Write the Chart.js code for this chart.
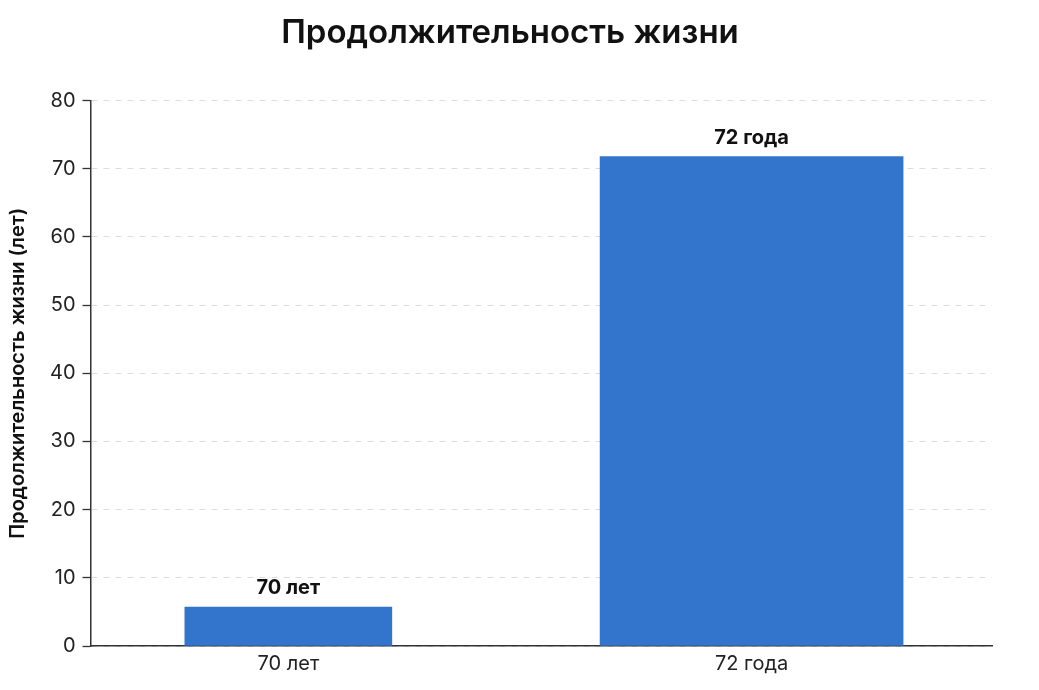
<!DOCTYPE html>
<html>
<head>
<meta charset="utf-8">
<script src="https://cdn.jsdelivr.net/npm/chart.js@4.4.1/dist/chart.umd.min.js"></script>
<style>
  html, body { margin: 0; padding: 0; background: #ffffff; }
  #wrap { width: 1039px; height: 690px; }
</style>
</head>
<body>
<div id="wrap"><canvas id="c" width="1039" height="690"></canvas></div>
<script>
const categories = ["70 лет", "72 года"];
const lifeExpectancy = [5.7, 71.8];
const barLabels = ["70 лет", "72 года"];
const yTicks = [0, 10, 20, 30, 40, 50, 60, 70, 80];
const titleText = "Продолжительность жизни";
const yTitleText = "Продолжительность жизни (лет)";

const FONT = "Inter, 'Noto Sans', 'DejaVu Sans', sans-serif";
const BAR_COLOR = "#3375cc";

const datasets = categories.map((c, i) => ({
  label: c,
  data: [{ x: i, y: lifeExpectancy[i] }],
  backgroundColor: BAR_COLOR,
  borderWidth: 0,
  barThickness: i === 0 ? 207 : 303,
  grouped: false
}));

const valueLabelPlugin = {
  id: "valueLabels",
  afterDatasetsDraw(chart) {
    const ctx = chart.ctx;
    ctx.save();
    ctx.font = "bold 20px " + FONT;
    ctx.fillStyle = "#111111";
    ctx.textAlign = "center";
    ctx.textBaseline = "middle";
    chart.data.datasets.forEach((ds, i) => {
      const meta = chart.getDatasetMeta(i);
      meta.data.forEach(el => {
        ctx.fillText(barLabels[i], el.x, el.y - 19);
      });
    });
    ctx.restore();
  }
};

new Chart(document.getElementById("c"), {
  type: "bar",
  data: { datasets },
  plugins: [valueLabelPlugin],
  options: {
    responsive: false,
    animation: false,
    layout: { padding: { left: 28, right: 47, top: 0, bottom: 8 } },
    plugins: {
      legend: { display: false },
      tooltip: { enabled: false },
      title: {
        display: true,
        text: titleText,
        color: "#111111",
        font: { family: FONT, size: 33, weight: "600" },
        padding: { top: 13, bottom: 48 }
      }
    },
    scales: {
      x: {
        type: "linear",
        offset: false,
        bounds: "data",
        min: -0.427,
        max: 1.519,
        afterBuildTicks(axis) {
          axis.ticks = categories.map((c, i) => ({ value: i }));
        },
        ticks: {
          color: "#222222",
          font: { family: FONT, size: 20 },
          padding: 6,
          maxRotation: 0,
          callback: (v) => categories[v] ?? ""
        },
        grid: { display: false, drawTicks: false },
        border: { display: true, color: "#333333", width: 1.5 }
      },
      y: {
        min: 0,
        max: 80,
        afterBuildTicks(axis) {
          axis.ticks = yTicks.map(v => ({ value: v }));
        },
        ticks: {
          color: "#222222",
          font: { family: FONT, size: 20 },
          padding: 7
        },
        grid: {
          color: "#dddddd",
          tickColor: "#333333",
          tickBorderDash: [],
          tickLength: 8,
          tickWidth: 1.3
        },
        border: { display: true, color: "#333333", width: 1.5, dash: [6, 6] },
        title: {
          display: true,
          text: yTitleText,
          color: "#111111",
          font: { family: FONT, size: 20, weight: "600" },
          padding: { top: -22, bottom: 13 }
        }
      }
    }
  }
});
</script>
</body>
</html>
